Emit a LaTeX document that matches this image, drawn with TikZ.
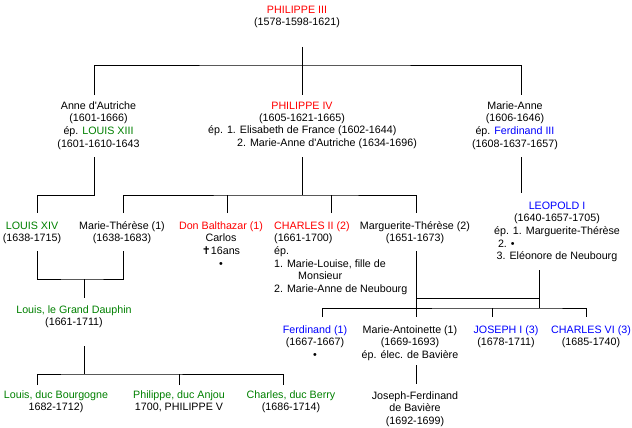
\documentclass[tikz,border=0pt]{standalone}
\usepackage{fontspec}
\setmainfont{Liberation Sans}[Ligatures=TeXOff]
\newfontfamily\crossfont{DejaVu Sans}
\usepackage{xcolor}
\definecolor{myred}{RGB}{255,0,0}
\definecolor{mygreen}{RGB}{0,128,0}
\definecolor{myblue}{RGB}{0,0,255}
\tikzset{
  person/.style={anchor=north, inner sep=0pt, align=center, font=\fontsize{10.7}{12.7}\selectfont},
  link/.style={line width=0.9pt}
}

\begin{document}
\begin{tikzpicture}[x=1pt,y=-1pt]
\useasboundingbox (0,0) rectangle (632,428);

\node[person] (p3) at (297,4) {\strut\textcolor{myred}{PHILIPPE III}\\(1578-1598-1621)};

\node[person] (anne) at (98.5,100) {\strut Anne d'Autriche\\(1601-1666)\\ép. \textcolor{mygreen}{LOUIS XIII}\\(1601-1610-1643};
\node[person] (p4) at (302,100) {\strut\textcolor{myred}{PHILIPPE IV}\\(1605-1621-1665)};
\node[person, anchor=north west, align=left] (p4wives) at (208,124.5) {\strut ép. 1. Elisabeth de France (1602-1644)\\\hspace*{29pt}2. Marie-Anne d'Autriche (1634-1696)};
\node[person] (ma) at (515,100) {\strut Marie-Anne\\(1606-1646)\\ép. \textcolor{myblue}{Ferdinand III}\\(1608-1637-1657)};

\node[person] (lxiv) at (32,220) {\strut\textcolor{mygreen}{LOUIS XIV}\\(1638-1715)};
\node[person] (mth) at (122,220) {\strut Marie-Thérèse (1)\\(1638-1683)};
\node[person] (balth) at (221,220) {\strut\textcolor{myred}{Don Balthazar (1)}\\Carlos\\{\crossfont ✝}16ans\\\textbullet};
\node[person, anchor=north west, align=left] (ch2) at (274,220) {\strut\textcolor{myred}{CHARLES II (2)}\\(1661-1700)\\ép.\\1. Marie-Louise, fille de\\\hspace*{24pt}Monsieur\\2. Marie-Anne de Neubourg};
\node[person] (mgt) at (415,220) {\strut Marguerite-Thérèse (2)\\(1651-1673)};
\node[person] (leo) at (557,200) {\strut\textcolor{myblue}{LEOPOLD I}\\(1640-1657-1705)\\ép. 1. Marguerite-Thérèse\\\makebox[118pt][l]{2. \textbullet}\\3. Eléonore de Neubourg};

\node[person] (dau) at (74,304) {\strut\textcolor{mygreen}{Louis, le Grand Dauphin}\\(1661-1711)};
\node[person] (ferd) at (315,324) {\strut\textcolor{myblue}{Ferdinand (1)}\\(1667-1667)\\\textbullet};
\node[person] (mant) at (410,324) {\strut Marie-Antoinette (1)\\(1669-1693)\\ép. élec. de Bavière};
\node[person] (jos) at (506,324) {\strut\textcolor{myblue}{JOSEPH I (3)}\\(1678-1711)};
\node[person] (ch6) at (591,324) {\strut\textcolor{myblue}{CHARLES VI (3)}\\(1685-1740)};

\node[person] (bourg) at (56,389) {\strut\textcolor{mygreen}{Louis, duc Bourgogne}\\1682-1712)};
\node[person] (anjou) at (179,389) {\strut\textcolor{mygreen}{Philippe, duc Anjou}\\1700, PHILIPPE V};
\node[person] (berry) at (291,389) {\strut\textcolor{mygreen}{Charles, duc Berry}\\(1686-1714)};
\node[person] (jf) at (415,390) {\strut Joseph-Ferdinand\\de Bavière\\(1692-1699)};

\coordinate (p3-out) at (302,47);
\coordinate (p3-bar) at (302,65);
\coordinate (anne-in) at (94,95);
\coordinate (p4-in) at (302,95);
\coordinate (ma-in) at (521,95);
\coordinate (anne-out) at (94,157);
\coordinate (p4-out) at (302,157);
\coordinate (ma-out) at (521,157);
\coordinate (p4-bar) at (302,195);
\coordinate (lxiv-in) at (37,213);
\coordinate (mth-in) at (123,213);
\coordinate (balth-in) at (227,213);
\coordinate (ch2-in) at (331,213);
\coordinate (mgt-in) at (416,213);
\coordinate (leo-in) at (521,193);
\coordinate (lxiv-out) at (37,251);
\coordinate (mth-out) at (123,251);
\coordinate (mgt-out) at (416,251);
\coordinate (leo-out) at (539,270);
\coordinate (lxiv-bar) at (84,279);
\coordinate (dau-in) at (84,298);
\coordinate (mgt-bar) at (416,298);
\coordinate (leo-bar) at (539,308);
\coordinate (ferd-in) at (322,317);
\coordinate (mant-in) at (416,317);
\coordinate (jos-in) at (492,317);
\coordinate (ch6-in) at (586,317);
\coordinate (dau-out) at (84,346);
\coordinate (mant-out) at (416,365);
\coordinate (dau-bar) at (84,374);
\coordinate (bourg-in) at (37,385);
\coordinate (anjou-in) at (179,385);
\coordinate (berry-in) at (283,385);
\coordinate (jf-in) at (416,384);

\draw[link] (p3-out) -- (p4-in);
\draw[link] (anne-in) |- (p3-bar) -| (ma-in);
\draw[link] (anne-out) |- (lxiv-in |- p4-bar) -- (lxiv-in);
\draw[link] (p4-out) -- (p4-bar);
\draw[link] (mth-in) |- (p4-bar) -| (mgt-in);
\foreach \kid in {balth-in,ch2-in}
  \draw[link] (\kid) -- (\kid |- p4-bar);
\draw[link] (ma-out) -- (leo-in);

\draw[link] (lxiv-out) |- (lxiv-bar) -| (mth-out);
\draw[link] (lxiv-bar) -- (dau-in);
\draw[link] (dau-out) -- (dau-bar);
\draw[link] (bourg-in) |- (dau-bar) -| (berry-in);
\draw[link] (anjou-in) -- (anjou-in |- dau-bar);

\draw[link] (mgt-out) -- (mant-in);
\draw[link] (mgt-bar) -| (leo-out);
\draw[link] (leo-out) -- (leo-bar);
\draw[link] (ferd-in) |- (leo-bar) -| (ch6-in);
\draw[link] (jos-in) -- (jos-in |- leo-bar);
\draw[link] (mant-out) -- (jf-in);

\end{tikzpicture}
\end{document}
